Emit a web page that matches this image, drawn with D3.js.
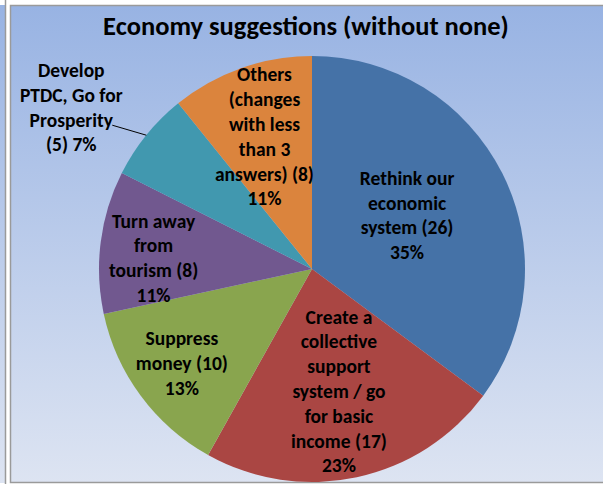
<!DOCTYPE html>
<html lang="en">
  <head>
    <meta charset="UTF-8">
    <title>Economy suggestions</title>
    <style>
      body { margin: 0; background: #fff; }
      svg { display: block; }
      .lbl { font-family: Carlito, Calibri, Lato, sans-serif; font-weight: bold; font-size: 19.5px; fill: #000; }
    </style>
  </head>
  <body>
    <svg id="chart"></svg>

    <script src="https://cdn.jsdelivr.net/npm/d3@7"></script>

    <script>
      var categories = [
        "Rethink our economic system",
        "Create a collective support system / go for basic income",
        "Suppress money",
        "Turn away from tourism",
        "Develop PTDC, Go for Prosperity",
        "Others (changes with less than 3 answers)"
      ];
      var values = [26, 17, 10, 8, 5, 8];
      var percentLabels = ["35%", "23%", "13%", "11%", "7%", "11%"];
      var labelLines = [
        ["Rethink our", "economic", "system (26)", "35%"],
        ["Create a", "collective", "support", "system / go", "for basic", "income (17)", "23%"],
        ["Suppress", "money (10)", "13%"],
        ["Turn away", "from", "tourism (8)", "11%"],
        ["Develop", "PTDC, Go for", "Prosperity", "(5) 7%"],
        ["Others", "(changes", "with less", "than 3", "answers) (8)", "11%"]
      ];
      var colors = ["#4572A7", "#AA4643", "#89A54E", "#71588F", "#4198AF", "#DB843D"];

      var width = 603, height = 484;
      var svg = d3.select("#chart").attr("width", width).attr("height", height);

      var defs = svg.append("defs");
      var grad = defs.append("linearGradient").attr("id", "bg")
          .attr("x1", 0).attr("y1", 0).attr("x2", 0).attr("y2", 1);
      grad.append("stop").attr("offset", "0%").attr("stop-color", "#98B3E3");
      grad.append("stop").attr("offset", "100%").attr("stop-color", "#DDE4F2");

      // left strip of a neighbouring chart
      svg.append("rect").attr("x", 0).attr("y", 5).attr("width", 5).attr("height", 478)
          .attr("fill", "url(#bg)");
      svg.append("line").attr("x1", 5.5).attr("x2", 5.5).attr("y1", 0).attr("y2", 484)
          .attr("stroke", "#9a9a9a").attr("stroke-width", 1.5);

      // chart area
      svg.append("rect").attr("x", 10.5).attr("y", 5.5).attr("width", 600).attr("height", 477)
          .attr("fill", "url(#bg)").attr("stroke", "#9a9a9a").attr("stroke-width", 1.5);

      svg.append("text")
          .attr("class", "lbl")
          .attr("x", 306).attr("y", 35)
          .attr("text-anchor", "middle")
          .style("font-size", "26.5px")
          .text("Economy suggestions (without none)");

      var cx = 312, cy = 269, r = 213;
      var g = svg.append("g").attr("transform", "translate(" + cx + "," + cy + ")");

      var pie = d3.pie().sort(null).value(function(d) { return d; });
      var arcs = pie(values);
      var arc = d3.arc().innerRadius(0).outerRadius(r);

      g.selectAll("path")
        .data(arcs)
        .enter()
        .append("path")
        .attr("d", arc)
        .attr("fill", function(d, i) { return colors[i]; });

      // label radius as fraction of r (Excel best fit), -1 = outside with leader
      var labelRadius = [0.5, 0.6, 0.76, 0.75, -1, 0.67];
      var labelNudgeY = [-3, 0, 1, 12, 5, 5];
      var lineH = 24.8;

      arcs.forEach(function(d, i) {
        var mid = (d.startAngle + d.endAngle) / 2;
        var lines = labelLines[i];
        var px, py;
        if (labelRadius[i] > 0) {
          var lr = labelRadius[i] * r;
          px = Math.sin(mid) * lr;
          py = -Math.cos(mid) * lr;
        } else {
          var ex = Math.sin(mid) * r, ey = -Math.cos(mid) * r;
          px = ex - 75;
          py = ey - 30;
          g.append("line")
            .attr("x1", ex).attr("y1", ey)
            .attr("x2", ex - 34).attr("y2", ey - 10)
            .attr("stroke", "#000").attr("stroke-width", 1);
        }
        py += labelNudgeY[i];
        var t = g.append("text")
            .attr("class", "lbl")
            .attr("text-anchor", "middle");
        lines.forEach(function(s, j) {
          t.append("tspan")
            .attr("x", px)
            .attr("y", py + (j - (lines.length - 1) / 2) * lineH + 4)
            .text(s);
        });
      });
    </script>
  </body>
</html>
